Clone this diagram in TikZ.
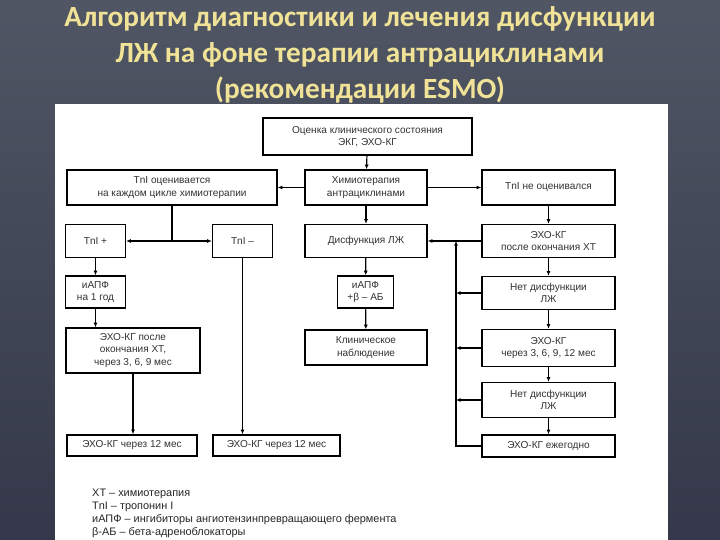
\documentclass[tikz,border=0pt]{standalone}
\usepackage{fontspec}
\setmainfont{Liberation Sans}
\newfontfamily\titlefont{Carlito}
\usetikzlibrary{arrows.meta}
\definecolor{slidetop}{RGB}{80,86,100}
\definecolor{slidebot}{RGB}{52,56,74}
\definecolor{titleyellow}{RGB}{240,226,150}
\begin{document}
\begin{tikzpicture}[x=0.03cm, y=-0.03cm,
  box/.style={draw, line width=1.2pt, align=center, inner sep=1pt, text=black!80, font=\fontsize{8.6}{10.4}\selectfont},
  arr/.style={-{Latex[length=4pt,width=3.5pt]}, line width=1pt},
  link/.style={line width=1pt}
]
\useasboundingbox (0,0) rectangle (720,540);
% slide background and white panel
\shade[top color=slidetop, bottom color=slidebot] (0,0) rectangle (720,540);
\fill[white] (55,104) rectangle (668,540);
\node[text=titleyellow, align=center, font=\titlefont\bfseries\fontsize{25}{30.5}\selectfont] (title) at (360,55)
  {Алгоритм диагностики и лечения дисфункции\\ЛЖ на фоне терапии антрациклинами\\(рекомендации ESMO)};

% boxes
\node[box, minimum width=6.27cm, minimum height=1.11cm] (otsenka) at (367.5,136.5) {Оценка клинического состояния\\ЭКГ, ЭХО-КГ};
\node[box, minimum width=6.3cm, minimum height=1.05cm] (tniyes) at (172,187.5) {TnI оценивается\\на каждом цикле химиотерапии};
\node[box, minimum width=3.66cm, minimum height=1.05cm] (khimio) at (366,187.5) {Химиотерапия\\антрациклинами};
\node[box, minimum width=3.99cm, minimum height=1.05cm] (tnino) at (548.5,187.5) {TnI не оценивался};
\node[box, minimum width=1.8cm, minimum height=0.99cm] (tnipos) at (95.5,241) {TnI +};
\node[box, minimum width=1.8cm, minimum height=0.99cm] (tnineg) at (242.5,241) {TnI –};
\node[box, minimum width=3.66cm, minimum height=0.99cm] (disf) at (366,241) {Дисфункция ЛЖ};
\node[box, minimum width=3.99cm, minimum height=0.99cm] (ekhoposle) at (548.5,241) {ЭХО-КГ\\после окончания ХТ};
\node[box, minimum width=1.8cm, minimum height=0.96cm] (iapf) at (95.5,292) {иАПФ\\на 1 год};
\node[box, minimum width=1.68cm, minimum height=0.96cm] (iapfbab) at (365.5,292) {иАПФ\\+β – АБ};
\node[box, minimum width=3.99cm, minimum height=0.99cm] (netdisfa) at (548.5,293) {Нет дисфункции\\ЛЖ};
\node[box, minimum width=4.02cm, minimum height=1.35cm] (ekho369) at (133,350.5) {ЭХО-КГ после\\окончания ХТ,\\через 3, 6, 9 мес};
\node[box, minimum width=3.66cm, minimum height=1.05cm] (klin) at (366,347.5) {Клиническое\\наблюдение};
\node[box, minimum width=3.99cm, minimum height=1.11cm] (ekho3612) at (548.5,348) {ЭХО-КГ\\через 3, 6, 9, 12 мес};
\node[box, minimum width=3.99cm, minimum height=1.05cm] (netdisfb) at (548.5,400) {Нет дисфункции\\ЛЖ};
\node[box, minimum width=3.9cm, minimum height=0.63cm] (ekho12a) at (132,445.5) {ЭХО-КГ через 12 мес};
\node[box, minimum width=3.81cm, minimum height=0.63cm] (ekho12b) at (276.5,445.5) {ЭХО-КГ через 12 мес};
\node[box, minimum width=3.99cm, minimum height=0.66cm] (ekhoyear) at (548.5,446) {ЭХО-КГ ежегодно};

% legend
\node[anchor=north west, align=left, inner sep=0pt, text=black!85, font=\fontsize{9.3}{10.9}\selectfont] (legend) at (92,489)
  {ХТ – химиотерапия\\TnI – тропонин I\\иАПФ – ингибиторы ангиотензинпревращающего фермента\\β-АБ – бета-адреноблокаторы};

% connectors
\draw[arr] (otsenka) -- (khimio);
\draw[arr] (khimio) -- (tniyes);
\draw[arr] (khimio) -- (tnino);
\draw[arr] (khimio) -- (disf);
\draw[arr] (tnino) -- (ekhoposle);
\coordinate (tnisplit) at (tniyes.south |- tnipos.east);
\draw[link] (tniyes.south) -- (tnisplit);
\draw[arr] (tnisplit) -- (tnipos);
\draw[arr] (tnisplit) -- (tnineg);
\draw[arr] (tnipos) -- (iapf);
\draw[arr] (iapf.south) -- (iapf.south |- ekho369.north);
\draw[arr] (ekho369.south) -- (ekho369.south |- ekho12a.north);
\draw[arr] (tnineg.south) -- (tnineg.south |- ekho12b.north);
\draw[arr] (disf) -- (iapfbab);
\draw[arr] (iapfbab) -- (klin);
\draw[arr] (ekhoposle) -- (netdisfa);
\draw[arr] (netdisfa) -- (ekho3612);
\draw[arr] (ekho3612) -- (netdisfb);
\draw[arr] (netdisfb) -- (ekhoyear);
% feedback line
\coordinate (fbtop) at (456,241);
\draw[arr] (ekhoposle) -- (disf);
\draw[arr] (ekhoyear.west) -| (fbtop);
\foreach \n in {netdisfa, ekho3612, netdisfb}
  \draw[arr] (\n.west) -- (\n.west -| fbtop);
\end{tikzpicture}
\end{document}
